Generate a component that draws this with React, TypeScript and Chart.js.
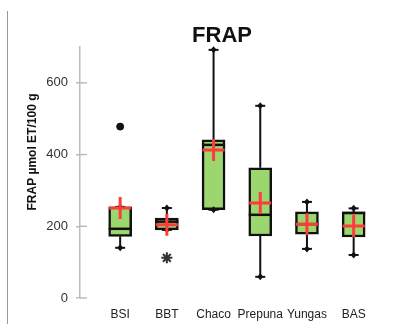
import React, { useEffect, useRef } from 'react';
import { Chart, registerables } from 'chart.js';

Chart.register(...registerables);

const categories = ['BSI', 'BBT', 'Chaco', 'Prepuna', 'Yungas', 'BAS'];
const mins = [140, 190, 246, 59, 137, 120];
const q1s = [172, 190, 246, 173, 178, 170];
const medians = [193, 213, 427, 232, 206, 237];
const q3s = [254, 223, 441, 363, 240, 240];
const maxs = [254, 251, 692, 536, 268, 250];
const means = [251, 204, 413, 265, 206, 201];
const dotOutlierCats = [0];
const dotOutlierValues = [478];
const starOutlierCats = [1];
const starOutlierValues = [112];
const yTicks = [0, 200, 400, 600];
const chartTitle = 'FRAP';
const yTitle = 'FRAP µmol ET/100 g';

const boxPlugin = {
  id: 'boxParts',
  afterDatasetDraw(chart: any, args: any) {
    if (args.index !== 0) return;
    const { ctx, scales } = chart;
    const x = scales.x;
    const y = scales.y;
    const half = 11.5;
    ctx.save();
    ctx.strokeStyle = '#111';
    ctx.fillStyle = '#111';
    categories.forEach((_, i) => {
      const cx = x.getPixelForValue(i);
      ctx.lineWidth = 2;
      ctx.beginPath();
      ctx.moveTo(cx, y.getPixelForValue(q3s[i]));
      ctx.lineTo(cx, y.getPixelForValue(maxs[i]));
      ctx.moveTo(cx, y.getPixelForValue(q1s[i]));
      ctx.lineTo(cx, y.getPixelForValue(mins[i]));
      ctx.stroke();
      [mins[i], maxs[i]].forEach((v) => {
        const py = y.getPixelForValue(v);
        ctx.lineWidth = 2;
        ctx.beginPath();
        ctx.moveTo(cx - 5, py);
        ctx.lineTo(cx + 5, py);
        ctx.stroke();
        ctx.beginPath();
        ctx.moveTo(cx, py - 3.5);
        ctx.lineTo(cx + 3, py);
        ctx.lineTo(cx, py + 3.5);
        ctx.lineTo(cx - 3, py);
        ctx.closePath();
        ctx.fill();
      });
      const my = y.getPixelForValue(medians[i]);
      ctx.lineWidth = 2.5;
      ctx.beginPath();
      ctx.moveTo(cx - half, my);
      ctx.lineTo(cx + half, my);
      ctx.stroke();
    });
    ctx.restore();
  },
  afterDraw(chart: any) {
    const { ctx, scales, chartArea } = chart;
    const y = scales.y;
    ctx.save();
    ctx.strokeStyle = '#bbb';
    ctx.lineWidth = 1.5;
    yTicks.forEach((t) => {
      const py = y.getPixelForValue(t);
      ctx.beginPath();
      ctx.moveTo(chartArea.left, py);
      ctx.lineTo(chartArea.left + 7, py);
      ctx.stroke();
    });
    ctx.fillStyle = '#111';
    ctx.font = 'bold 22px "Liberation Sans", Arial, sans-serif';
    ctx.textAlign = 'center';
    ctx.textBaseline = 'alphabetic';
    ctx.fillText(chartTitle, 222, 42);
    ctx.translate(33, 152);
    ctx.rotate(-Math.PI / 2);
    ctx.font = 'bold 12px "Liberation Sans", Arial, sans-serif';
    ctx.textBaseline = 'middle';
    ctx.fillText(yTitle, 0, 0);
    ctx.restore();
  },
};

export default function App() {
  const ref = useRef<HTMLCanvasElement | null>(null);
  useEffect(() => {
    if (!ref.current) return;
    const chart = new Chart(ref.current, {
      type: 'bar',
      data: {
        datasets: [
          {
            type: 'bar',
            data: categories.map((_, i) => ({ x: i, y: [q1s[i], q3s[i]] })) as any,
            backgroundColor: '#9bd66f',
            borderColor: '#111',
            borderWidth: 2.5,
            borderSkipped: false,
            barThickness: 23,
            order: 3,
          } as any,
          {
            type: 'scatter',
            data: dotOutlierCats.map((c, i) => ({ x: c, y: dotOutlierValues[i] })),
            pointStyle: 'circle',
            radius: 3.5,
            backgroundColor: '#111',
            borderColor: '#111',
            order: 1,
          } as any,
          {
            type: 'scatter',
            data: starOutlierCats.map((c, i) => ({ x: c, y: starOutlierValues[i] })),
            pointStyle: 'star',
            radius: 5.5,
            borderColor: '#333',
            borderWidth: 2,
            order: 1,
          } as any,
          {
            type: 'scatter',
            data: means.map((m, i) => ({ x: i, y: m })),
            pointStyle: 'cross',
            radius: 11,
            borderColor: '#ff3b3b',
            borderWidth: 3,
            order: 0,
          } as any,
        ],
      },
      options: {
        animation: false,
        responsive: false,
        layout: { padding: { top: 47, right: 18, left: 0, bottom: 0 } },
        plugins: { legend: { display: false }, tooltip: { enabled: false }, title: { display: false } },
        scales: {
          x: {
            type: 'linear',
            offset: false,
            min: -0.86,
            max: 5.5,
            grid: { display: false },
            border: { display: false },
            afterBuildTicks: (s: any) => {
              s.ticks = categories.map((_, i) => ({ value: i }));
            },
            afterFit: (s: any) => {
              s.height = 26;
            },
            ticks: {
              autoSkip: false,
              maxRotation: 0,
              padding: 1,
              color: '#222',
              font: { family: '"Liberation Sans", Arial, sans-serif', size: 12 },
              callback: (v: any) => categories[v] ?? '',
            },
          },
          y: {
            min: 0,
            max: 700,
            afterBuildTicks: (s: any) => {
              s.ticks = yTicks.map((v) => ({ value: v }));
            },
            afterFit: (s: any) => {
              s.width = 80;
            },
            grid: { drawOnChartArea: false, drawTicks: true, tickLength: 4, color: '#bbb', lineWidth: 1.5 },
            border: { display: true, color: '#bbb', width: 1.5 },
            ticks: {
              padding: 8,
              color: '#333',
              font: { family: '"Liberation Sans", Arial, sans-serif', size: 13 },
            },
          },
        },
      },
      plugins: [boxPlugin],
    } as any);
    return () => chart.destroy();
  }, []);
  return (
    <div style={{ position: 'fixed', left: 0, top: 0, width: 395, height: 324, background: '#fff' }}>
      <div style={{ position: 'absolute', left: 7, top: 11, width: 1, height: 313, background: '#999' }} />
      <canvas ref={ref} width={395} height={324} style={{ position: 'absolute', left: 0, top: 0 }} />
    </div>
  );
}
